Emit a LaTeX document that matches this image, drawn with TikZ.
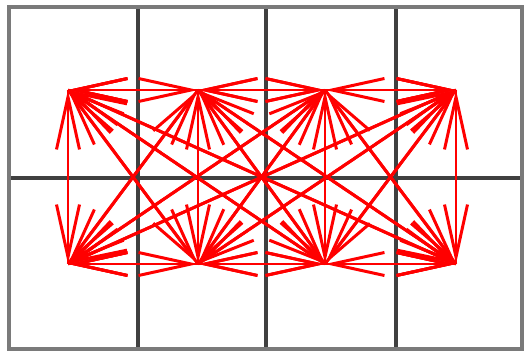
\documentclass[tikz,border=0pt]{standalone}
\usepackage{tikz}
\usetikzlibrary{arrows.meta}

\begin{document}
\begin{tikzpicture}[
  x=0.02cm, y=-0.02cm,
  frame/.style={draw=black!52, line width=2.6pt},
  cellline/.style={draw=black!75, line width=2pt},
  link/.style={-{Straight Barb[length=1.05cm, width=0.46cm]}, draw=red, line width=1.7pt}
]
  \useasboundingbox (0,0) rectangle (524,351);

  % grid of cells
  \draw[cellline] (138,7) -- (138,349);
  \draw[cellline] (266,7) -- (266,349);
  \draw[cellline] (396,7) -- (396,349);
  \draw[cellline] (9,178) -- (522,178);
  \draw[frame] (9,7) rectangle (522,349);

  % points, one per cell
  \coordinate (n1) at (68,90);
  \coordinate (n2) at (198,90);
  \coordinate (n3) at (325,90);
  \coordinate (n4) at (456,90);
  \coordinate (n5) at (68,264);
  \coordinate (n6) at (198,264);
  \coordinate (n7) at (325,264);
  \coordinate (n8) at (456,264);

  % every point to every other point
  \foreach \i in {1,...,8}
    \foreach \j in {1,...,8}
      {\ifnum\i=\j\else \draw[link] (n\i) -- (n\j); \fi}
\end{tikzpicture}
\end{document}
